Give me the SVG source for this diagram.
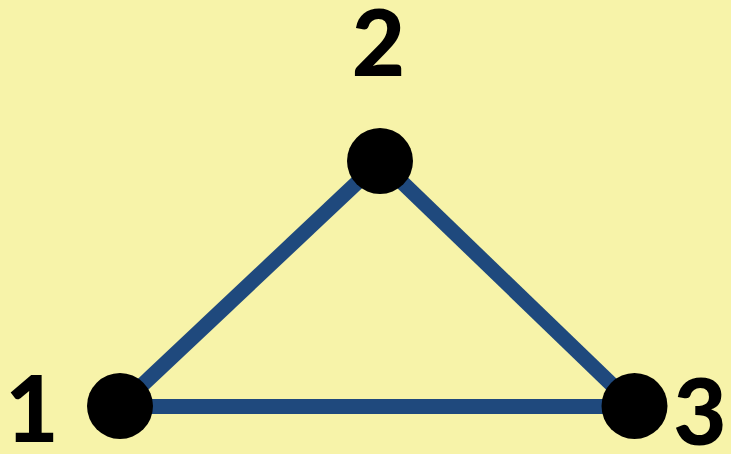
<svg xmlns="http://www.w3.org/2000/svg" width="731" height="454" viewBox="0 0 731 454">
<style>
.edge{stroke:#1F497D;stroke-width:15;fill:none}
.node{fill:#000}
.lbl{font-family:Lato,"Open Sans","DejaVu Sans",sans-serif;font-weight:900;font-size:92px;fill:#000;text-anchor:middle}
</style>
<rect width="731" height="454" fill="#F7F3A9"/>
<g id="connectors">
<line class="edge" x1="120" y1="406" x2="380" y2="161"/>
<line class="edge" x1="380" y1="161" x2="634" y2="406"/>
<line class="edge" x1="120" y1="406.5" x2="634" y2="406.5"/>
</g>
<g id="node1"><circle class="node" cx="120" cy="406" r="33"/><text class="lbl" x="32" y="442">1</text></g>
<g id="node2"><circle class="node" cx="380" cy="161" r="33"/><text class="lbl" x="378.5" y="76">2</text></g>
<g id="node3"><circle class="node" cx="634.5" cy="406" r="33"/><text class="lbl" x="700" y="445">3</text></g>
</svg>
